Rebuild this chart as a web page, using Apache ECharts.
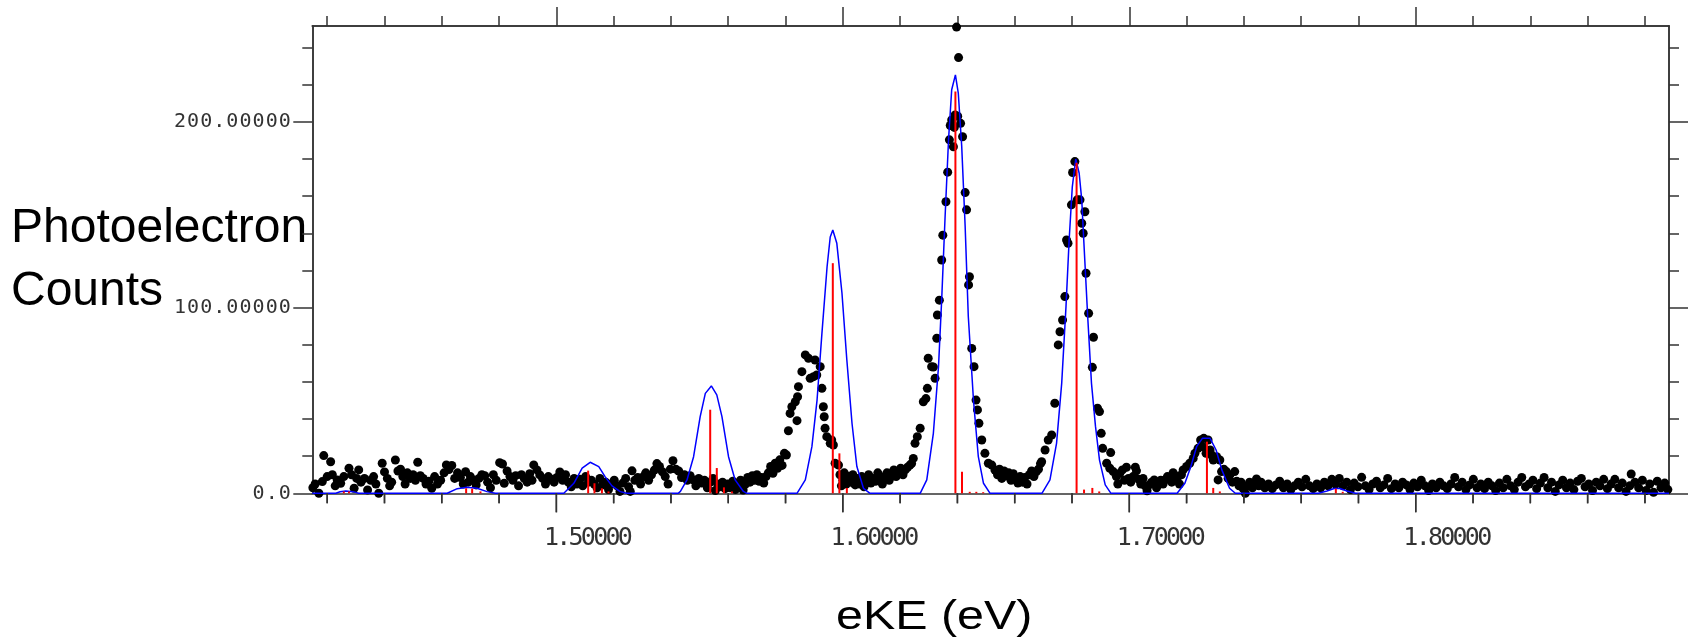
<!DOCTYPE html>
<html>
<head>
<meta charset="utf-8">
<title>Photoelectron spectrum</title>
<script src="https://cdn.jsdelivr.net/npm/echarts@6.0.0/dist/echarts.min.js"></script>
<style>
html, body { margin: 0; padding: 0; background: #fff; }
#chart { width: 1690px; height: 641px; }
</style>
</head>
<body>
<div id="chart"></div>
<script>
var x_min = 1.4148, x_max = 1.8884;
var y_min = 0, y_max = 251.6;

// tick positions
var major_x = [1.5, 1.6, 1.7, 1.8];
var minor_x = [1.42, 1.44, 1.46, 1.48, 1.52, 1.54, 1.56, 1.58, 1.62, 1.64, 1.66, 1.68,
    1.72, 1.74, 1.76, 1.78, 1.82, 1.84, 1.86, 1.88];
var major_y = [0, 100, 200];
var minor_y = [20, 40, 60, 80, 120, 140, 160, 180, 220, 240];

// measured photoelectron counts [eKE, counts]
var counts_data = [
    [1.4150,3],[1.4158,5],[1.4171,0],[1.4183,6.3],[1.4188,20.3],[1.4200,9],[1.4212,17],[1.4218,10],
    [1.4228,4],[1.4235,7.2],[1.4247,5.4],[1.4258,9],[1.4276,13.5],[1.4285,10],[1.4294,2.7],[1.4303,8],
    [1.4310,12.6],[1.4318,6],[1.4330,8],[1.4341,1.8],[1.4352,7],[1.4362,9],[1.4370,5],[1.4380,0],
    [1.4392,16.2],[1.4400,11.5],[1.4410,8],[1.4418,4],[1.4425,6],[1.4438,17.9],[1.4447,12],[1.4456,13],
    [1.4464,9],[1.4472,5],[1.4480,11],[1.4490,8],[1.4500,10],[1.4508,7],[1.4516,16.7],[1.4525,9.5],
    [1.4535,8],[1.4545,5],[1.4555,6.5],[1.4565,2.7],[1.4575,9],[1.4585,5],[1.4596,7],[1.4608,11],
    [1.4616,15.3],[1.4625,12.8],[1.4635,15],[1.4645,8],[1.4655,11],[1.4665,8.5],[1.4675,5],[1.4683,11.6],
    [1.4692,6],[1.4700,9],[1.4710,7],[1.4720,4.5],[1.4730,8],[1.4740,10],[1.4750,9.5],[1.4760,6],
    [1.4770,3],[1.4780,10],[1.4790,7],[1.4802,16.5],[1.4812,15.8],[1.4818,5.4],[1.4828,12],[1.4838,9],
    [1.4848,7],[1.4858,9.5],[1.4868,4],[1.4878,10],[1.4888,8],[1.4898,6],[1.4907,10.5],[1.4915,7],
    [1.4921,15.3],[1.4932,12.6],[1.4942,9.9],[1.4952,8],[1.4962,5],[1.4972,9],[1.4982,7.5],[1.4992,6],
    [1.5002,8.5],[1.5012,11.5],[1.5022,7],[1.5032,10],[1.5042,6],[1.5052,3.5],[1.5062,8],[1.5072,5],
    [1.5082,7.5],[1.5092,4],[1.5102,9],[1.5112,6],[1.5122,7],[1.5132,5],[1.5142,3],[1.5152,8],
    [1.5162,4.5],[1.5172,6],[1.5182,2],[1.5192,5],[1.5202,7],[1.5212,4],[1.5222,1],[1.5232,5.5],
    [1.5242,8],[1.5252,3.5],[1.5258,1],[1.5264,12.1],[1.5274,7],[1.5284,8.5],[1.5294,5],[1.5304,9],
    [1.5312,11],[1.5322,7],[1.5332,10],[1.5342,12.5],[1.5351,16],[1.5360,14.4],[1.5370,11.6],[1.5380,9],
    [1.5390,5],[1.5398,13],[1.5407,17.5],[1.5417,13],[1.5427,12],[1.5437,8.5],[1.5447,10],[1.5457,7],
    [1.5467,9.5],[1.5477,7.2],[1.5487,4],[1.5497,8],[1.5507,5.5],[1.5517,7],[1.5527,3],[1.5537,6],
    [1.5547,8],[1.5555,1.5],[1.5563,5],[1.5571,3.5],[1.5580,6],[1.5589,2.5],[1.5598,5],[1.5607,3],
    [1.5616,6.5],[1.5625,2],[1.5634,4.5],[1.5643,7],[1.5652,1.8],[1.5660,5],[1.5668,8.5],[1.5676,6],
    [1.5684,9.5],[1.5692,7],[1.5700,10],[1.5708,6.5],[1.5716,8.5],[1.5724,5.5],[1.5732,9],[1.5740,11],
    [1.5748,14.4],[1.5756,10.8],[1.5764,16.2],[1.5772,13.5],[1.5780,18],[1.5788,15],[1.5796,21.5],[1.5803,20.6],
    // shoulder and 1.596 band
    [1.5810,33.7],[1.5816,43],[1.5822,46.6],[1.5834,49.3],[1.5840,39.1],[1.5842,52],[1.5845,57.4],[1.5857,65.5],
    [1.5869,74.5],[1.5880,72.7],[1.5886,61.9],[1.5898,62.8],[1.5903,71.8],[1.5909,63.7],[1.5921,68.2],[1.5927,56.5],
    [1.5932,46.6],[1.5935,41.2],[1.5938,35],[1.5944,30.5],[1.5956,26.9],[1.5961,28.7],[1.5967,26],[1.5973,16.2],
    [1.5985,15.2],[1.5990,10],[1.5995,4],
    [1.6000,7],[1.6005,11],[1.6012,5],[1.6020,9],[1.6028,6],[1.6035,10],[1.6043,4.5],[1.6050,8],
    [1.6058,5],[1.6066,9],[1.6074,3.5],[1.6082,7],[1.6090,10],[1.6098,5.5],[1.6106,8],[1.6114,6.5],
    [1.6122,11],[1.6130,8],[1.6138,5],[1.6146,9],[1.6154,11],[1.6162,7],[1.6170,10.8],[1.6178,12.6],
    [1.6186,9],[1.6194,11.5],[1.6202,13.5],[1.6210,10],[1.6218,12.6],[1.6226,14],[1.6234,15.2],[1.6240,16],
    [1.6246,18.8],[1.6252,26.9],[1.6260,30.5],[1.6270,35],[1.6281,49.3],[1.6290,51],[1.6295,56.5],[1.6298,72.7],
    [1.6310,68.2],[1.6316,68],[1.6322,61.9],[1.6328,83.5],[1.6330,96],[1.6337,104],[1.6345,125.6],[1.6349,139],
    [1.6360,157],[1.6366,172.9],[1.6372,190.3],[1.6375,198],[1.6380,201],[1.6386,186.6],[1.6389,197],[1.6392,203.7],
    [1.6397,251],[1.6401,203],[1.6404,234.6],[1.6411,199.2],[1.6418,192],[1.6427,161.9],[1.6432,152.6],[1.6439,112.2],
    [1.6442,116.6],[1.6450,78],[1.6458,68.2],[1.6465,50.2],[1.6470,44.9],[1.6475,37.7],[1.6485,28.7],[1.6496,21.5],
    [1.6508,16.2],[1.6520,15.2],[1.6531,12.5],
    [1.6540,10],[1.6547,13],[1.6555,8],[1.6563,12],[1.6571,9.5],[1.6579,11],[1.6587,7],[1.6595,10.5],
    [1.6603,8],[1.6611,5.5],[1.6619,9],[1.6627,6],[1.6635,8.5],[1.6643,5],[1.6651,10],[1.6659,12],
    [1.6667,9],[1.6675,11.5],[1.6683,13],[1.6690,16],[1.6694,17],[1.6706,23.3],[1.6717,28.7],[1.6729,31.4],
    [1.6740,48.5],[1.6752,79.9],[1.6758,87],[1.6767,93.3],[1.6775,105.9],[1.6781,136.4],[1.6786,134.6],[1.6798,155.3],
    [1.6802,172.7],[1.6810,178.6],[1.6818,158],[1.6828,158],[1.6834,145.4],[1.6839,140],[1.6845,151.6],[1.6849,118.5],
    [1.6858,96.9],[1.6871,67.8],[1.6875,84],[1.6889,45.8],[1.6896,44],[1.6902,32.3],[1.6907,24.2],[1.6921,16.2],
    [1.6932,13.5],[1.6935,21.9],[1.6944,11.7],[1.6955,9],[1.6960,5],[1.6967,10.8],[1.6976,12.6],[1.6983,7],
    [1.6990,14],[1.6997,8],[1.7005,6],[1.7013,9],[1.7021,14],[1.7025,12.1],[1.7033,7.5],[1.7040,5],
    [1.7048,8],[1.7055,4],[1.7062,1.4],[1.7070,4.5],[1.7078,6],[1.7087,7.2],[1.7095,3],[1.7102,4.5],
    [1.7110,7],[1.7118,5],[1.7125,7.2],[1.7133,9],[1.7140,8],[1.7148,6],[1.7153,11.1],[1.7160,9.5],
    [1.7168,8.5],[1.7175,5],[1.7182,10],[1.7188,12.6],[1.7200,14.4],[1.7211,16.2],[1.7223,18.8],[1.7229,21.5],
    [1.7240,24.2],[1.7249,28.7],[1.7255,25.1],[1.7260,29.6],[1.7268,21.5],[1.7275,28.7],[1.7282,23.3],[1.7287,20.6],
    [1.7293,17.9],[1.7305,19.7],[1.7310,7.2],[1.7316,17.9],[1.7322,11.7],[1.7330,13],[1.7339,11.7],[1.7345,8],
    [1.7351,9.9],[1.7360,6],[1.7368,11.7],[1.7375,6.5],[1.7383,4],[1.7390,6],[1.7397,2.7],[1.7405,0],
    [1.7412,4],[1.7420,6],[1.7430,3],[1.7437,5],[1.7444,7.7],[1.7452,4],
    [1.7460,6],[1.7473,3],[1.7486,5],[1.7499,2.5],[1.7512,4.5],[1.7525,6.5],[1.7538,3],[1.7551,5],
    [1.7564,2],[1.7577,4],[1.7590,6],[1.7603,3.5],[1.7616,7.5],[1.7629,4],[1.7642,2.5],[1.7655,5],
    [1.7668,3],[1.7681,6],[1.7694,4],[1.7707,7.5],[1.7720,5],[1.7733,8],[1.7746,4],[1.7759,6],
    [1.7772,2],[1.7785,5.5],[1.7798,3.5],[1.7811,8.6],[1.7824,4],[1.7837,2],[1.7850,5],[1.7863,6.5],
    [1.7876,3],[1.7889,4.5],[1.7902,8],[1.7915,2.5],[1.7928,5],[1.7941,3],[1.7954,6],[1.7967,4.5],
    [1.7980,2],[1.7993,5.5],[1.8006,3.5],[1.8019,7],[1.8032,4],[1.8045,1.5],[1.8058,5],[1.8071,3],
    [1.8084,6],[1.8097,4],[1.8110,2.5],[1.8123,5],[1.8136,8.5],[1.8149,3.5],[1.8162,6],[1.8175,2],
    [1.8188,4.5],[1.8201,7.5],[1.8214,3],[1.8227,5],[1.8240,2.5],[1.8253,6],[1.8266,4],[1.8279,1.5],
    [1.8292,5.5],[1.8305,3],[1.8318,7.5],[1.8331,4],[1.8344,2],[1.8357,6],[1.8370,8.5],[1.8383,3.5],
    [1.8396,5],[1.8409,7],[1.8422,2.5],[1.8435,5.5],[1.8448,8.5],[1.8461,3],[1.8474,6],[1.8487,1],
    [1.8500,4.5],[1.8513,7],[1.8526,3],[1.8539,5.5],[1.8552,2],[1.8565,6.5],[1.8578,8],[1.8591,3.5],
    [1.8604,5],[1.8617,1.5],[1.8630,6],[1.8643,4],[1.8656,7.5],[1.8669,2.5],[1.8682,5],[1.8695,7.5],
    [1.8708,3],[1.8721,5.5],[1.8734,1],[1.8747,4],[1.8752,10.4],[1.8765,6],[1.8778,3],[1.8791,7],
    [1.8804,1.5],[1.8817,5],[1.8830,0.5],[1.8843,6.5],[1.8856,3],[1.8869,5.5],[1.8880,2]
];

// simulated spectrum (blue) [eKE, counts]
var fit_curve = [
    [1.4148,0],[1.4230,0],[1.4245,0.8],[1.4265,1.2],[1.4290,0.9],[1.4310,0],
    [1.4619,0],[1.4654,2.5],[1.4688,3.2],[1.4723,2.7],[1.4758,0.9],[1.4787,0],
    [1.5026,0],[1.5061,5.4],[1.5090,13.5],[1.5118,16.7],[1.5148,14.4],[1.5170,9],[1.5194,4],[1.5223,0.9],[1.5246,0],
    [1.5425,0],[1.5433,1],[1.5456,7.2],[1.5479,19.7],[1.5502,41.3],[1.5520,53.8],[1.5541,57.8],[1.5560,53],
    [1.5578,41.3],[1.5601,19.7],[1.5624,7.2],[1.5653,1],[1.5665,0],
    [1.5840,0],[1.5845,0.4],[1.5869,7.2],[1.5892,25.1],[1.5910,50.2],[1.5927,86.1],[1.5945,122],[1.5956,138],
    [1.5965,141.8],[1.5979,134.6],[1.5997,107.7],[1.6014,71.8],[1.6032,37.7],[1.6049,14.4],[1.6072,2.7],[1.6095,0],
    [1.6270,0],[1.6275,1],[1.6293,7.2],[1.6316,32.3],[1.6334,68.2],[1.6345,104],[1.6357,149],[1.6369,190.4],
    [1.6380,217.3],[1.6393,225.3],[1.6403,215.5],[1.6415,186.8],[1.6427,143.6],[1.6438,95.2],[1.6456,50.2],
    [1.6473,19.7],[1.6491,5.4],[1.6514,0],
    [1.6695,0],[1.6700,0.4],[1.6723,7.2],[1.6746,26.9],[1.6764,59.2],[1.6779,100.5],[1.6790,136.4],[1.6801,165],
    [1.6813,180],[1.6825,172.3],[1.6834,158],[1.6841,136.4],[1.6855,94.5],[1.6868,59.2],[1.6882,36],[1.6896,17.9],
    [1.6916,4.5],[1.6936,0],
    [1.7167,0],[1.7194,5.4],[1.7215,14.4],[1.7235,25.1],[1.7255,29.6],[1.7282,29.6],[1.7303,23.3],[1.7323,12.6],
    [1.7350,2.7],[1.7370,0],
    [1.7660,0],[1.7690,1.2],[1.7715,2.6],[1.7735,2.6],[1.7760,1.2],[1.7790,0],[1.8884,0]
];

// Franck-Condon sticks (red) [eKE, intensity]
var fc_sticks = [
    [1.4258,1],[1.4276,1],[1.4685,2.7],[1.4706,2.5],[1.4735,1],
    [1.5111,12.2],[1.5133,5.4],[1.5159,2.7],[1.5182,1],
    [1.5537,45],[1.5560,13.6],[1.5585,3.2],[1.5613,1],
    [1.5965,123.9],[1.5988,21.5],[1.6014,2.9],
    [1.6393,216.3],[1.6416,11.6],[1.6443,0.8],[1.6466,0.8],[1.6490,0.6],
    [1.6816,178],[1.6842,2],[1.6871,2.9],[1.6895,1],
    [1.7271,27.8],[1.7293,2.9],[1.7316,1],
    [1.7721,2.5],[1.7745,0.8]
];

var chart_dom = document.getElementById('chart');
var chart = echarts.init(chart_dom);

var frame_color = '#333';
var major_len = 19, minor_len = 10;

// one rich segment per character so the mono digits get the wide spacing of the original
function spaced(txt) {
    return txt.split('').map(function (ch) { return '{c|' + ch + '}'; }).join('');
}

function x_axis(pos, ticks, len, labels) {
    var ax = {
        type: 'value', position: pos, min: x_min, max: x_max,
        axisLine: { show: true, onZero: false, lineStyle: { color: frame_color, width: 1.5 } },
        axisTick: { show: true, inside: false, length: len, customValues: ticks,
            lineStyle: { color: frame_color, width: 1.5 } },
        axisLabel: { show: false },
        splitLine: { show: false }
    };
    if (labels) {
        ax.axisTick = { show: false };
        ax.axisLabel = {
            show: true, customValues: major_x, margin: 32,
            formatter: function (v) { return '{g| }' + spaced(v.toFixed(5)); },
            rich: {
                g: { width: 64, lineHeight: 26 },
                c: { width: 12.3, align: 'center', fontFamily: 'DejaVu Sans Mono', fontSize: 25,
                    lineHeight: 26, color: '#333' }
            }
        };
    }
    return ax;
}

function y_axis(pos, ticks, len, labels) {
    var ax = {
        type: 'value', position: pos, min: y_min, max: y_max,
        axisLine: { show: true, onZero: false, lineStyle: { color: frame_color, width: 1.5 } },
        axisTick: { show: true, inside: false, length: len, customValues: ticks,
            lineStyle: { color: frame_color, width: 1.5 } },
        axisLabel: { show: false },
        splitLine: { show: false }
    };
    if (labels) {
        ax.axisLabel = {
            show: true, customValues: major_y, margin: 21,
            formatter: function (v) { return spaced(v === 0 ? '0.0' : v.toFixed(5)); },
            rich: {
                c: { width: 13.1, align: 'center', fontFamily: 'DejaVu Sans Mono', fontSize: 20,
                    lineHeight: 22, color: '#333' }
            }
        };
    }
    return ax;
}

// bottom ticks through the x scale
function bottom_ticks(params, api) {
    var v = api.value(0);
    var p = api.coord([v, y_min]);
    var len = major_x.indexOf(v) >= 0 ? major_len : minor_len;
    return {
        type: 'line',
        shape: { x1: p[0], y1: p[1], x2: p[0], y2: p[1] + len },
        style: { stroke: frame_color, lineWidth: 1.5 }
    };
}

var title_texts = [
    { id: 'ytitle1', type: 'text', x: 11, y: 205, silent: true,
        style: { text: 'Photoelectron', fontSize: 48, fontFamily: 'Liberation Sans', fill: '#000',
            align: 'left', verticalAlign: 'top' } },
    { id: 'ytitle2', type: 'text', x: 11, y: 268, silent: true,
        style: { text: 'Counts', fontSize: 48, fontFamily: 'Liberation Sans', fill: '#000',
            align: 'left', verticalAlign: 'top' } },
    { id: 'xtitle', type: 'text', x: 836, y: 598, scaleX: 1.21, silent: true,
        style: { text: 'eKE (eV)', fontSize: 40, fontFamily: 'Liberation Sans', fill: '#000',
            align: 'left', verticalAlign: 'top' } }
];

var option = {
    animation: false,
    grid: { left: 312.3, right: 21, top: 26, bottom: 147.7 },
    xAxis: [
        x_axis('bottom', major_x, major_len, true),
        x_axis('top', major_x, major_len, false),
        x_axis('top', minor_x, minor_len, false)
    ],
    yAxis: [
        y_axis('left', major_y, major_len, true),
        y_axis('left', minor_y, minor_len, false),
        y_axis('right', major_y, major_len, false),
        y_axis('right', minor_y, minor_len, false)
    ],
    graphic: title_texts,
    series: [
        {
            name: 'data', type: 'scatter', data: counts_data,
            symbol: 'circle', symbolSize: 9,
            itemStyle: { color: '#000', opacity: 1 }, z: 2, silent: true
        },
        {
            name: 'simulation', type: 'line', data: fit_curve,
            showSymbol: false, symbol: 'none', clip: false,
            lineStyle: { color: '#0000ff', width: 1.5 }, z: 3, silent: true
        },
        {
            name: 'sticks', type: 'bar', data: fc_sticks, barWidth: 2,
            itemStyle: { color: '#ff0000' }, z: 4, silent: true
        },
        {
            name: 'ticks', type: 'custom', clip: false, z: 10, zlevel: 1,
            data: major_x.concat(minor_x).map(function (v) { return [v, y_min]; }),
            renderItem: bottom_ticks
        }
    ]
};

chart.setOption(option);

// same ticks again on a top layer, in case the series layer hides them
var tick_lines = [];
major_x.concat(minor_x).forEach(function (v, i) {
    var p = chart.convertToPixel({ gridIndex: 0 }, [v, y_min]);
    if (!p || isNaN(p[0]) || isNaN(p[1])) { return; }
    var len = i < major_x.length ? major_len : minor_len;
    tick_lines.push({
        id: 'btick' + i, type: 'line', silent: true, z: 100, zlevel: 2,
        shape: { x1: p[0], y1: p[1], x2: p[0], y2: p[1] + len },
        style: { stroke: frame_color, lineWidth: 1.5 }
    });
});
chart.setOption({ graphic: title_texts.concat(tick_lines) });
</script>
</body>
</html>
